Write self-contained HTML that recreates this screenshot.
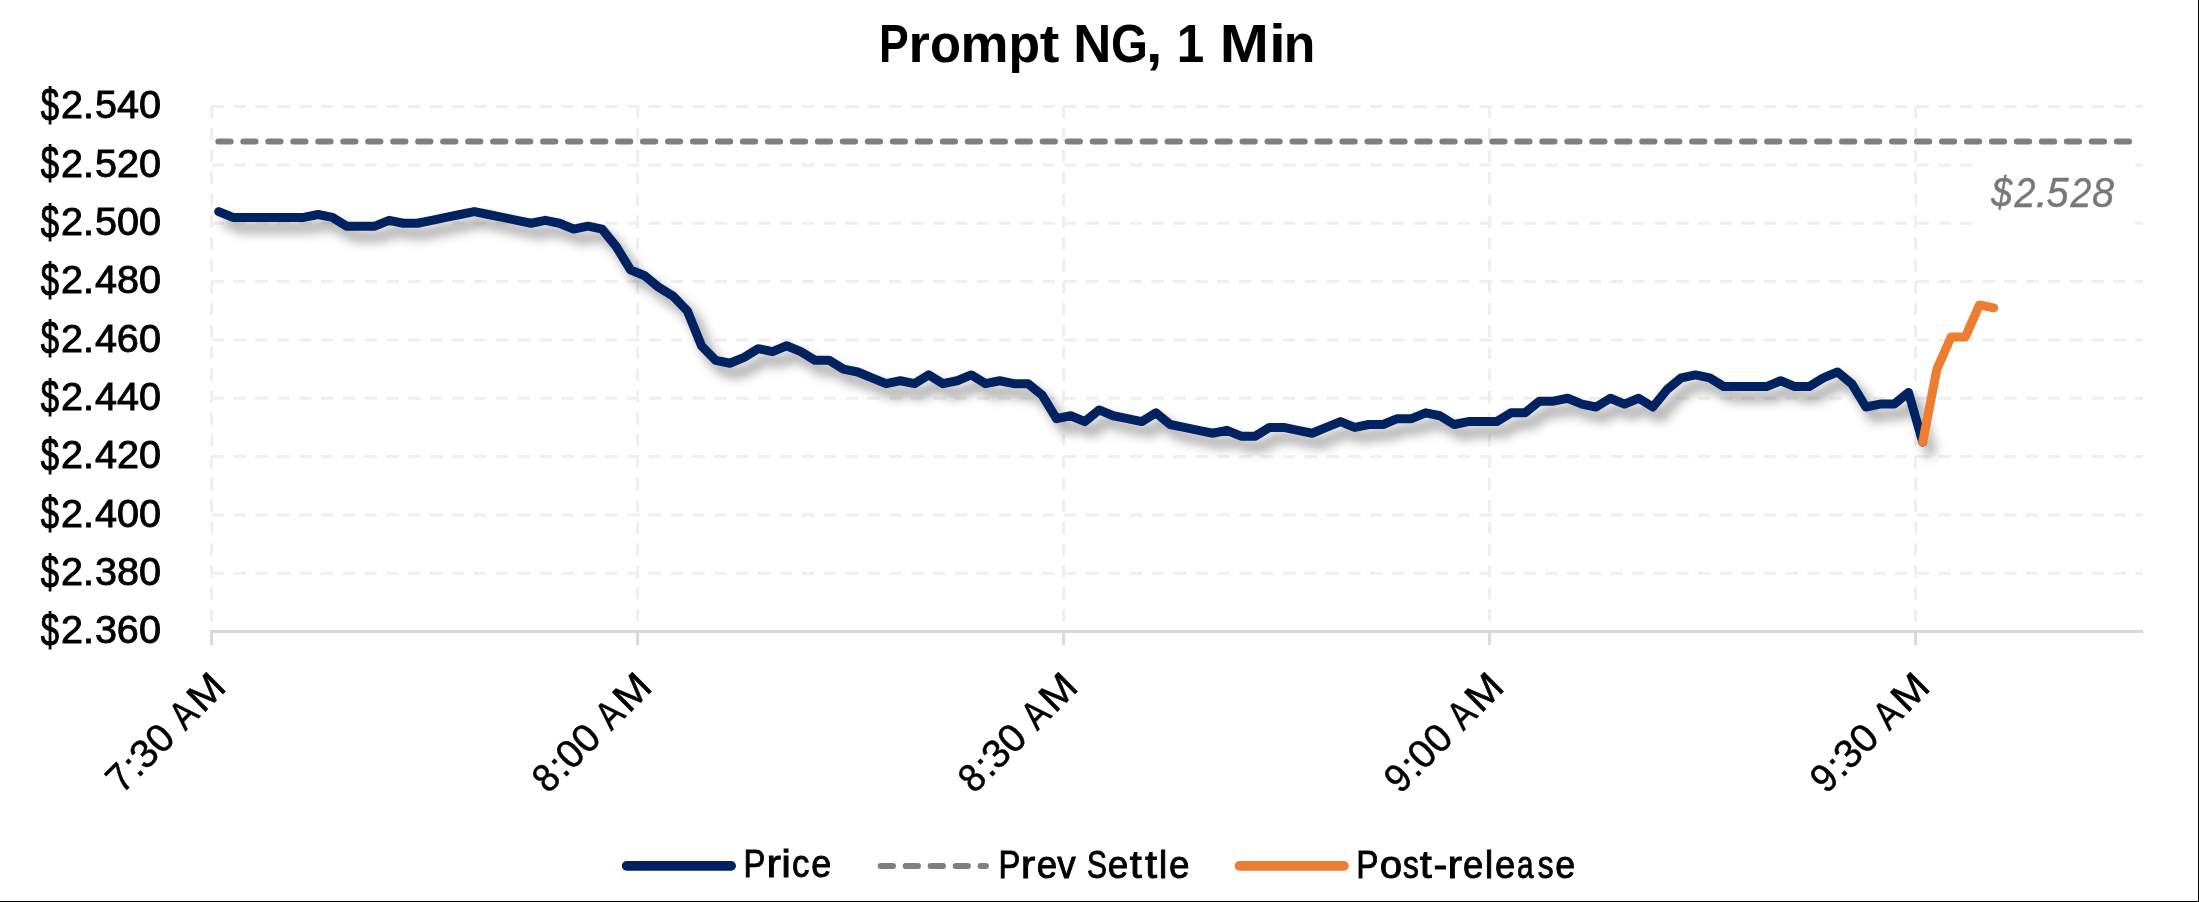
<!DOCTYPE html>
<html><head><meta charset="utf-8"><style>
html,body{margin:0;padding:0;background:#fff;width:2199px;height:902px;overflow:hidden}
svg{display:block}
text{font-family:"Liberation Sans",sans-serif}
</style></head><body>
<svg width="2199" height="902" viewBox="0 0 2199 902" style="will-change:transform">
<defs>
<filter id="sh" x="-5%" y="-20%" width="110%" height="140%">
<feGaussianBlur in="SourceAlpha" stdDeviation="6"/>
<feOffset dx="8" dy="10" result="b"/>
<feFlood flood-color="#000" flood-opacity="0.4"/>
<feComposite in2="b" operator="in"/>
<feMerge><feMergeNode/><feMergeNode in="SourceGraphic"/></feMerge>
</filter>
</defs>
<rect width="2199" height="902" fill="#fff"/>

<line x1="211.6" y1="106.60" x2="2143.0" y2="106.60" stroke="#efefef" stroke-width="3" stroke-dasharray="12.4 9.46"/>
<line x1="211.6" y1="164.93" x2="2143.0" y2="164.93" stroke="#efefef" stroke-width="3" stroke-dasharray="12.4 9.46"/>
<line x1="211.6" y1="223.27" x2="2143.0" y2="223.27" stroke="#efefef" stroke-width="3" stroke-dasharray="12.4 9.46"/>
<line x1="211.6" y1="281.60" x2="2143.0" y2="281.60" stroke="#efefef" stroke-width="3" stroke-dasharray="12.4 9.46"/>
<line x1="211.6" y1="339.93" x2="2143.0" y2="339.93" stroke="#efefef" stroke-width="3" stroke-dasharray="12.4 9.46"/>
<line x1="211.6" y1="398.26" x2="2143.0" y2="398.26" stroke="#efefef" stroke-width="3" stroke-dasharray="12.4 9.46"/>
<line x1="211.6" y1="456.60" x2="2143.0" y2="456.60" stroke="#efefef" stroke-width="3" stroke-dasharray="12.4 9.46"/>
<line x1="211.6" y1="514.93" x2="2143.0" y2="514.93" stroke="#efefef" stroke-width="3" stroke-dasharray="12.4 9.46"/>
<line x1="211.6" y1="573.26" x2="2143.0" y2="573.26" stroke="#efefef" stroke-width="3" stroke-dasharray="12.4 9.46"/>
<line x1="211.60" y1="106.20" x2="211.60" y2="631.60" stroke="#efefef" stroke-width="3" stroke-dasharray="12.4 9.46"/>
<line x1="637.60" y1="106.20" x2="637.60" y2="631.60" stroke="#efefef" stroke-width="3" stroke-dasharray="12.4 9.46"/>
<line x1="1063.60" y1="106.20" x2="1063.60" y2="631.60" stroke="#efefef" stroke-width="3" stroke-dasharray="12.4 9.46"/>
<line x1="1489.60" y1="106.20" x2="1489.60" y2="631.60" stroke="#efefef" stroke-width="3" stroke-dasharray="12.4 9.46"/>
<line x1="1915.60" y1="106.20" x2="1915.60" y2="631.60" stroke="#efefef" stroke-width="3" stroke-dasharray="12.4 9.46"/>
<line x1="210.1" y1="631.6" x2="2143.0" y2="631.6" stroke="#d9d9d9" stroke-width="3"/>
<line x1="211.60" y1="630.1" x2="211.60" y2="645.1" stroke="#d9d9d9" stroke-width="3"/>
<line x1="637.60" y1="630.1" x2="637.60" y2="645.1" stroke="#d9d9d9" stroke-width="3"/>
<line x1="1063.60" y1="630.1" x2="1063.60" y2="645.1" stroke="#d9d9d9" stroke-width="3"/>
<line x1="1489.60" y1="630.1" x2="1489.60" y2="645.1" stroke="#d9d9d9" stroke-width="3"/>
<line x1="1915.60" y1="630.1" x2="1915.60" y2="645.1" stroke="#d9d9d9" stroke-width="3"/>
<text x="60.99 83.00 95.03 117.11 138.89" y="118.45" font-size="39.6" font-weight="normal" font-style="normal" fill="#000" stroke="#000" stroke-width="0.9">2.540</text>
<text transform="translate(49.9,105.40) scale(0.830,1.176)" x="-10.91" y="13.28" font-size="39.6" fill="#000" stroke="#000" stroke-width="0.9">$</text>
<text x="60.99 83.00 95.03 116.99 138.89" y="176.78" font-size="39.6" font-weight="normal" font-style="normal" fill="#000" stroke="#000" stroke-width="0.9">2.520</text>
<text transform="translate(49.9,163.73) scale(0.830,1.176)" x="-10.91" y="13.28" font-size="39.6" fill="#000" stroke="#000" stroke-width="0.9">$</text>
<text x="60.99 83.00 95.03 116.99 138.89" y="235.12" font-size="39.6" font-weight="normal" font-style="normal" fill="#000" stroke="#000" stroke-width="0.9">2.500</text>
<text transform="translate(49.9,222.07) scale(0.830,1.176)" x="-10.91" y="13.28" font-size="39.6" fill="#000" stroke="#000" stroke-width="0.9">$</text>
<text x="60.99 83.00 95.11 116.99 138.89" y="293.45" font-size="39.6" font-weight="normal" font-style="normal" fill="#000" stroke="#000" stroke-width="0.9">2.480</text>
<text transform="translate(49.9,280.40) scale(0.830,1.176)" x="-10.91" y="13.28" font-size="39.6" fill="#000" stroke="#000" stroke-width="0.9">$</text>
<text x="60.99 83.00 95.11 116.85 138.89" y="351.78" font-size="39.6" font-weight="normal" font-style="normal" fill="#000" stroke="#000" stroke-width="0.9">2.460</text>
<text transform="translate(49.9,338.73) scale(0.830,1.176)" x="-10.91" y="13.28" font-size="39.6" fill="#000" stroke="#000" stroke-width="0.9">$</text>
<text x="60.99 83.00 95.11 117.11 138.89" y="410.11" font-size="39.6" font-weight="normal" font-style="normal" fill="#000" stroke="#000" stroke-width="0.9">2.440</text>
<text transform="translate(49.9,397.06) scale(0.830,1.176)" x="-10.91" y="13.28" font-size="39.6" fill="#000" stroke="#000" stroke-width="0.9">$</text>
<text x="60.99 83.00 95.11 116.99 138.89" y="468.45" font-size="39.6" font-weight="normal" font-style="normal" fill="#000" stroke="#000" stroke-width="0.9">2.420</text>
<text transform="translate(49.9,455.40) scale(0.830,1.176)" x="-10.91" y="13.28" font-size="39.6" fill="#000" stroke="#000" stroke-width="0.9">$</text>
<text x="60.99 83.00 95.11 116.99 138.89" y="526.78" font-size="39.6" font-weight="normal" font-style="normal" fill="#000" stroke="#000" stroke-width="0.9">2.400</text>
<text transform="translate(49.9,513.73) scale(0.830,1.176)" x="-10.91" y="13.28" font-size="39.6" fill="#000" stroke="#000" stroke-width="0.9">$</text>
<text x="60.99 83.00 95.10 116.99 138.89" y="585.11" font-size="39.6" font-weight="normal" font-style="normal" fill="#000" stroke="#000" stroke-width="0.9">2.380</text>
<text transform="translate(49.9,572.06) scale(0.830,1.176)" x="-10.91" y="13.28" font-size="39.6" fill="#000" stroke="#000" stroke-width="0.9">$</text>
<text x="60.99 83.00 95.10 116.85 138.89" y="643.45" font-size="39.6" font-weight="normal" font-style="normal" fill="#000" stroke="#000" stroke-width="0.9">2.360</text>
<text transform="translate(49.9,630.40) scale(0.830,1.176)" x="-10.91" y="13.28" font-size="39.6" fill="#000" stroke="#000" stroke-width="0.9">$</text>
<text transform="translate(894.50,61.80) scale(0.831,1)" x="-18.75" y="0" font-size="53.6" font-weight="bold" font-style="normal" fill="#000">P</text><text transform="translate(920.65,61.80) scale(1.023,1)" x="-11.79" y="0" font-size="53.6" font-weight="bold" font-style="normal" fill="#000">r</text><text transform="translate(945.50,61.80) scale(0.946,1)" x="-16.37" y="0" font-size="53.6" font-weight="bold" font-style="normal" fill="#000">o</text><text transform="translate(984.55,61.80) scale(1.007,1)" x="-23.93" y="0" font-size="53.6" font-weight="bold" font-style="normal" fill="#000">m</text><text transform="translate(1024.90,61.80) scale(0.963,1)" x="-17.04" y="0" font-size="53.6" font-weight="bold" font-style="normal" fill="#000">p</text><text transform="translate(1049.55,61.80) scale(1.100,1)" x="-8.92" y="0" font-size="53.6" font-weight="bold" font-style="normal" fill="#000">t</text><text transform="translate(1092.30,61.80) scale(0.984,1)" x="-19.34" y="0" font-size="53.6" font-weight="bold" font-style="normal" fill="#000">N</text><text transform="translate(1128.90,61.80) scale(0.885,1)" x="-20.28" y="0" font-size="53.6" font-weight="bold" font-style="normal" fill="#000">G</text><text transform="translate(1154.15,61.80) scale(1.100,1)" x="-7.47" y="0" font-size="53.6" font-weight="bold" font-style="normal" fill="#000">,</text><text transform="translate(1191.40,61.80) scale(0.922,1)" x="-15.85" y="0" font-size="53.6" font-weight="bold" font-style="normal" fill="#000">1</text><text transform="translate(1244.40,61.80) scale(1.100,1)" x="-22.32" y="0" font-size="53.6" font-weight="bold" font-style="normal" fill="#000">M</text><text transform="translate(1277.45,61.80) scale(1.100,1)" x="-7.42" y="0" font-size="53.6" font-weight="bold" font-style="normal" fill="#000">i</text><text transform="translate(1299.60,61.80) scale(0.966,1)" x="-16.48" y="0" font-size="53.6" font-weight="bold" font-style="normal" fill="#000">n</text>
<text transform="translate(129.54,787.36) rotate(-45) scale(0.955,1)" x="-11.03" y="0" font-size="39.6" fill="#000" stroke="#000" stroke-width="0.5">7</text>
<text transform="translate(141.95,774.95) rotate(-45) scale(1.000,1)" x="-5.50" y="0" font-size="39.6" fill="#000" stroke="#000" stroke-width="0.5">:</text>
<text transform="translate(153.55,763.36) rotate(-45) scale(1.000,1)" x="-10.90" y="0" font-size="39.6" fill="#000" stroke="#000" stroke-width="0.5">3</text>
<text transform="translate(169.25,747.66) rotate(-45) scale(1.000,1)" x="-11.01" y="0" font-size="39.6" fill="#000" stroke="#000" stroke-width="0.5">0</text>
<text transform="translate(193.08,723.83) rotate(-45) scale(0.834,1)" x="-13.21" y="0" font-size="39.6" fill="#000" stroke="#000" stroke-width="0.5">A</text>
<text transform="translate(215.46,701.45) rotate(-45) scale(1.072,1)" x="-16.49" y="0" font-size="39.6" fill="#000" stroke="#000" stroke-width="0.5">M</text>
<text transform="translate(555.54,787.36) rotate(-45) scale(0.926,1)" x="-11.01" y="0" font-size="39.6" fill="#000" stroke="#000" stroke-width="0.5">8</text>
<text transform="translate(567.95,774.95) rotate(-45) scale(1.000,1)" x="-5.50" y="0" font-size="39.6" fill="#000" stroke="#000" stroke-width="0.5">:</text>
<text transform="translate(579.55,763.36) rotate(-45) scale(1.000,1)" x="-11.01" y="0" font-size="39.6" fill="#000" stroke="#000" stroke-width="0.5">0</text>
<text transform="translate(595.25,747.66) rotate(-45) scale(1.000,1)" x="-11.01" y="0" font-size="39.6" fill="#000" stroke="#000" stroke-width="0.5">0</text>
<text transform="translate(619.08,723.83) rotate(-45) scale(0.834,1)" x="-13.21" y="0" font-size="39.6" fill="#000" stroke="#000" stroke-width="0.5">A</text>
<text transform="translate(641.46,701.45) rotate(-45) scale(1.072,1)" x="-16.49" y="0" font-size="39.6" fill="#000" stroke="#000" stroke-width="0.5">M</text>
<text transform="translate(981.54,787.36) rotate(-45) scale(0.926,1)" x="-11.01" y="0" font-size="39.6" fill="#000" stroke="#000" stroke-width="0.5">8</text>
<text transform="translate(993.95,774.95) rotate(-45) scale(1.000,1)" x="-5.50" y="0" font-size="39.6" fill="#000" stroke="#000" stroke-width="0.5">:</text>
<text transform="translate(1005.55,763.36) rotate(-45) scale(1.000,1)" x="-10.90" y="0" font-size="39.6" fill="#000" stroke="#000" stroke-width="0.5">3</text>
<text transform="translate(1021.25,747.66) rotate(-45) scale(1.000,1)" x="-11.01" y="0" font-size="39.6" fill="#000" stroke="#000" stroke-width="0.5">0</text>
<text transform="translate(1045.08,723.83) rotate(-45) scale(0.834,1)" x="-13.21" y="0" font-size="39.6" fill="#000" stroke="#000" stroke-width="0.5">A</text>
<text transform="translate(1067.46,701.45) rotate(-45) scale(1.072,1)" x="-16.49" y="0" font-size="39.6" fill="#000" stroke="#000" stroke-width="0.5">M</text>
<text transform="translate(1407.54,787.36) rotate(-45) scale(0.940,1)" x="-11.00" y="0" font-size="39.6" fill="#000" stroke="#000" stroke-width="0.5">9</text>
<text transform="translate(1419.95,774.95) rotate(-45) scale(1.000,1)" x="-5.50" y="0" font-size="39.6" fill="#000" stroke="#000" stroke-width="0.5">:</text>
<text transform="translate(1431.55,763.36) rotate(-45) scale(1.000,1)" x="-11.01" y="0" font-size="39.6" fill="#000" stroke="#000" stroke-width="0.5">0</text>
<text transform="translate(1447.25,747.66) rotate(-45) scale(1.000,1)" x="-11.01" y="0" font-size="39.6" fill="#000" stroke="#000" stroke-width="0.5">0</text>
<text transform="translate(1471.08,723.83) rotate(-45) scale(0.834,1)" x="-13.21" y="0" font-size="39.6" fill="#000" stroke="#000" stroke-width="0.5">A</text>
<text transform="translate(1493.46,701.45) rotate(-45) scale(1.072,1)" x="-16.49" y="0" font-size="39.6" fill="#000" stroke="#000" stroke-width="0.5">M</text>
<text transform="translate(1833.54,787.36) rotate(-45) scale(0.940,1)" x="-11.00" y="0" font-size="39.6" fill="#000" stroke="#000" stroke-width="0.5">9</text>
<text transform="translate(1845.95,774.95) rotate(-45) scale(1.000,1)" x="-5.50" y="0" font-size="39.6" fill="#000" stroke="#000" stroke-width="0.5">:</text>
<text transform="translate(1857.55,763.36) rotate(-45) scale(1.000,1)" x="-10.90" y="0" font-size="39.6" fill="#000" stroke="#000" stroke-width="0.5">3</text>
<text transform="translate(1873.25,747.66) rotate(-45) scale(1.000,1)" x="-11.01" y="0" font-size="39.6" fill="#000" stroke="#000" stroke-width="0.5">0</text>
<text transform="translate(1897.08,723.83) rotate(-45) scale(0.834,1)" x="-13.21" y="0" font-size="39.6" fill="#000" stroke="#000" stroke-width="0.5">A</text>
<text transform="translate(1919.46,701.45) rotate(-45) scale(1.072,1)" x="-16.49" y="0" font-size="39.6" fill="#000" stroke="#000" stroke-width="0.5">M</text>
<line x1="218.3" y1="141.60" x2="2135.70" y2="141.60" stroke="#7f7f7f" stroke-width="6" stroke-linecap="round" stroke-dasharray="12.3 12.68"/>
<polyline points="218.70,211.60 232.90,217.43 247.10,217.43 261.30,217.43 275.50,217.43 289.70,217.43 303.90,217.43 318.10,214.52 332.30,217.43 346.50,226.18 360.70,226.18 374.90,226.18 389.10,220.35 403.30,223.27 417.50,223.27 431.70,220.35 445.90,217.43 460.10,214.52 474.30,211.60 488.50,214.52 502.70,217.43 516.90,220.35 531.10,223.27 545.30,220.35 559.50,223.27 573.70,229.10 587.90,226.18 602.10,229.10 616.30,246.60 630.50,269.93 644.70,275.77 658.90,287.43 673.10,296.18 687.30,310.77 701.50,345.77 715.70,360.35 729.90,363.27 744.10,357.43 758.30,348.68 772.50,351.60 786.70,345.77 800.90,351.60 815.10,360.35 829.30,360.35 843.50,369.10 857.70,372.02 871.90,377.85 886.10,383.68 900.30,380.77 914.50,383.68 928.70,374.93 942.90,383.68 957.10,380.77 971.30,374.93 985.50,383.68 999.70,380.77 1013.90,383.68 1028.10,383.68 1042.30,395.35 1056.50,418.68 1070.70,415.76 1084.90,421.60 1099.10,409.93 1113.30,415.76 1127.50,418.68 1141.70,421.60 1155.90,412.85 1170.10,424.51 1184.30,427.43 1198.50,430.35 1212.70,433.26 1226.90,430.35 1241.10,436.18 1255.30,436.18 1269.50,427.43 1283.70,427.43 1297.90,430.35 1312.10,433.26 1326.30,427.43 1340.50,421.60 1354.70,427.43 1368.90,424.51 1383.10,424.51 1397.30,418.68 1411.50,418.68 1425.70,412.85 1439.90,415.76 1454.10,424.51 1468.30,421.60 1482.50,421.60 1496.70,421.60 1510.90,412.85 1525.10,412.85 1539.30,401.18 1553.50,401.18 1567.70,398.27 1581.90,404.10 1596.10,407.01 1610.30,398.27 1624.50,404.10 1638.70,398.27 1652.90,407.01 1667.10,389.52 1681.30,377.85 1695.50,374.93 1709.70,377.85 1723.90,386.60 1738.10,386.60 1752.30,386.60 1766.50,386.60 1780.70,380.77 1794.90,386.60 1809.10,386.60 1823.30,377.85 1837.50,372.02 1851.70,383.68 1865.90,407.01 1880.10,404.10 1894.30,404.10 1908.50,392.43 1922.70,442.01" fill="none" stroke="#002060" stroke-width="9" stroke-linejoin="round" stroke-linecap="round" filter="url(#sh)"/>
<polyline points="1922.70,442.01 1936.90,369.10 1951.10,337.02 1965.30,337.02 1979.50,304.93 1993.70,307.85" fill="none" stroke="#ed7d31" stroke-width="9" stroke-linejoin="round" stroke-linecap="round"/>
<rect x="1978" y="150" width="150" height="90" fill="#fff"/>
<text transform="translate(2001.95,206.90) scale(0.904,1)" x="-11.76" y="0" font-size="41.6" font-weight="normal" font-style="italic" fill="#787878" stroke="#787878" stroke-width="0.4">$</text><text transform="translate(2024.60,206.90) scale(0.905,1)" x="-11.14" y="0" font-size="41.6" font-weight="normal" font-style="italic" fill="#787878" stroke="#787878" stroke-width="0.4">2</text><text transform="translate(2040.00,206.90) scale(1.100,1)" x="-4.04" y="0" font-size="41.6" font-weight="normal" font-style="italic" fill="#787878" stroke="#787878" stroke-width="0.4">.</text><text transform="translate(2057.95,206.90) scale(0.955,1)" x="-12.09" y="0" font-size="41.6" font-weight="normal" font-style="italic" fill="#787878" stroke="#787878" stroke-width="0.4">5</text><text transform="translate(2080.45,206.90) scale(0.900,1)" x="-11.14" y="0" font-size="41.6" font-weight="normal" font-style="italic" fill="#787878" stroke="#787878" stroke-width="0.4">2</text><text transform="translate(2103.50,206.90) scale(0.954,1)" x="-11.99" y="0" font-size="41.6" font-weight="normal" font-style="italic" fill="#787878" stroke="#787878" stroke-width="0.4">8</text>
<line x1="626.65" y1="865.9" x2="731.15" y2="865.9" stroke="#002060" stroke-width="9.7" stroke-linecap="round"/>
<line x1="880.7" y1="866.0" x2="985.9" y2="866.0" stroke="#7f7f7f" stroke-width="6" stroke-linecap="round" stroke-dasharray="12.3 12.68"/>
<line x1="1239.45" y1="865.9" x2="1343.95" y2="865.9" stroke="#ed7d31" stroke-width="9.7" stroke-linecap="round"/>
<text transform="translate(754.95,877.45) scale(0.826,1)" x="-13.79" y="0" font-size="39.6" font-weight="normal" font-style="normal" fill="#000" stroke="#000" stroke-width="0.9">P</text><text transform="translate(774.90,877.45) scale(1.100,1)" x="-7.58" y="0" font-size="39.6" font-weight="normal" font-style="normal" fill="#000" stroke="#000" stroke-width="0.9">r</text><text transform="translate(786.05,877.45) scale(1.100,1)" x="-4.39" y="0" font-size="39.6" font-weight="normal" font-style="normal" fill="#000" stroke="#000" stroke-width="0.9">i</text><text transform="translate(800.85,877.45) scale(0.879,1)" x="-10.22" y="0" font-size="39.6" font-weight="normal" font-style="normal" fill="#000" stroke="#000" stroke-width="0.9">c</text><text transform="translate(821.10,877.45) scale(0.909,1)" x="-10.97" y="0" font-size="39.6" font-weight="normal" font-style="normal" fill="#000" stroke="#000" stroke-width="0.9">e</text>
<text transform="translate(1009.95,877.55) scale(0.826,1)" x="-13.79" y="0" font-size="39.6" font-weight="normal" font-style="normal" fill="#000" stroke="#000" stroke-width="0.9">P</text><text transform="translate(1028.95,877.55) scale(1.100,1)" x="-7.58" y="0" font-size="39.6" font-weight="normal" font-style="normal" fill="#000" stroke="#000" stroke-width="0.9">r</text><text transform="translate(1046.85,877.55) scale(0.926,1)" x="-10.97" y="0" font-size="39.6" font-weight="normal" font-style="normal" fill="#000" stroke="#000" stroke-width="0.9">e</text><text transform="translate(1066.45,877.55) scale(0.932,1)" x="-9.90" y="0" font-size="39.6" font-weight="normal" font-style="normal" fill="#000" stroke="#000" stroke-width="0.9">v</text><text transform="translate(1096.95,877.55) scale(0.754,1)" x="-13.20" y="0" font-size="39.6" font-weight="normal" font-style="normal" fill="#000" stroke="#000" stroke-width="0.9">S</text><text transform="translate(1118.00,877.55) scale(0.931,1)" x="-10.97" y="0" font-size="39.6" font-weight="normal" font-style="normal" fill="#000" stroke="#000" stroke-width="0.9">e</text><text transform="translate(1135.90,877.55) scale(1.100,1)" x="-5.66" y="0" font-size="39.6" font-weight="normal" font-style="normal" fill="#000" stroke="#000" stroke-width="0.9">t</text><text transform="translate(1151.20,877.55) scale(1.100,1)" x="-5.66" y="0" font-size="39.6" font-weight="normal" font-style="normal" fill="#000" stroke="#000" stroke-width="0.9">t</text><text transform="translate(1163.15,877.55) scale(0.977,1)" x="-4.41" y="0" font-size="39.6" font-weight="normal" font-style="normal" fill="#000" stroke="#000" stroke-width="0.9">l</text><text transform="translate(1179.10,877.55) scale(0.931,1)" x="-10.97" y="0" font-size="39.6" font-weight="normal" font-style="normal" fill="#000" stroke="#000" stroke-width="0.9">e</text>
<text transform="translate(1367.90,877.65) scale(0.840,1)" x="-13.79" y="0" font-size="39.6" font-weight="normal" font-style="normal" fill="#000" stroke="#000" stroke-width="0.9">P</text><text transform="translate(1390.95,877.65) scale(1.016,1)" x="-11.01" y="0" font-size="39.6" font-weight="normal" font-style="normal" fill="#000" stroke="#000" stroke-width="0.9">o</text><text transform="translate(1410.75,877.65) scale(0.799,1)" x="-9.74" y="0" font-size="39.6" font-weight="normal" font-style="normal" fill="#000" stroke="#000" stroke-width="0.9">s</text><text transform="translate(1426.05,877.65) scale(1.100,1)" x="-5.66" y="0" font-size="39.6" font-weight="normal" font-style="normal" fill="#000" stroke="#000" stroke-width="0.9">t</text><text transform="translate(1440.50,877.65) scale(1.045,1)" x="-6.59" y="0" font-size="39.6" font-weight="normal" font-style="normal" fill="#000" stroke="#000" stroke-width="0.9">-</text><text transform="translate(1455.80,877.65) scale(1.100,1)" x="-7.58" y="0" font-size="39.6" font-weight="normal" font-style="normal" fill="#000" stroke="#000" stroke-width="0.9">r</text><text transform="translate(1473.00,877.65) scale(0.920,1)" x="-10.97" y="0" font-size="39.6" font-weight="normal" font-style="normal" fill="#000" stroke="#000" stroke-width="0.9">e</text><text transform="translate(1489.05,877.65) scale(0.977,1)" x="-4.41" y="0" font-size="39.6" font-weight="normal" font-style="normal" fill="#000" stroke="#000" stroke-width="0.9">l</text><text transform="translate(1505.20,877.65) scale(0.920,1)" x="-10.97" y="0" font-size="39.6" font-weight="normal" font-style="normal" fill="#000" stroke="#000" stroke-width="0.9">e</text><text transform="translate(1525.90,877.65) scale(0.750,1)" x="-11.85" y="0" font-size="39.6" font-weight="normal" font-style="normal" fill="#000" stroke="#000" stroke-width="0.9">a</text><text transform="translate(1545.55,877.65) scale(0.799,1)" x="-9.74" y="0" font-size="39.6" font-weight="normal" font-style="normal" fill="#000" stroke="#000" stroke-width="0.9">s</text><text transform="translate(1565.05,877.65) scale(0.904,1)" x="-10.97" y="0" font-size="39.6" font-weight="normal" font-style="normal" fill="#000" stroke="#000" stroke-width="0.9">e</text>
<rect x="2198" y="0" width="1" height="902" fill="#000"/>
<rect x="0" y="901" width="2199" height="1" fill="#000"/>
</svg></body></html>
